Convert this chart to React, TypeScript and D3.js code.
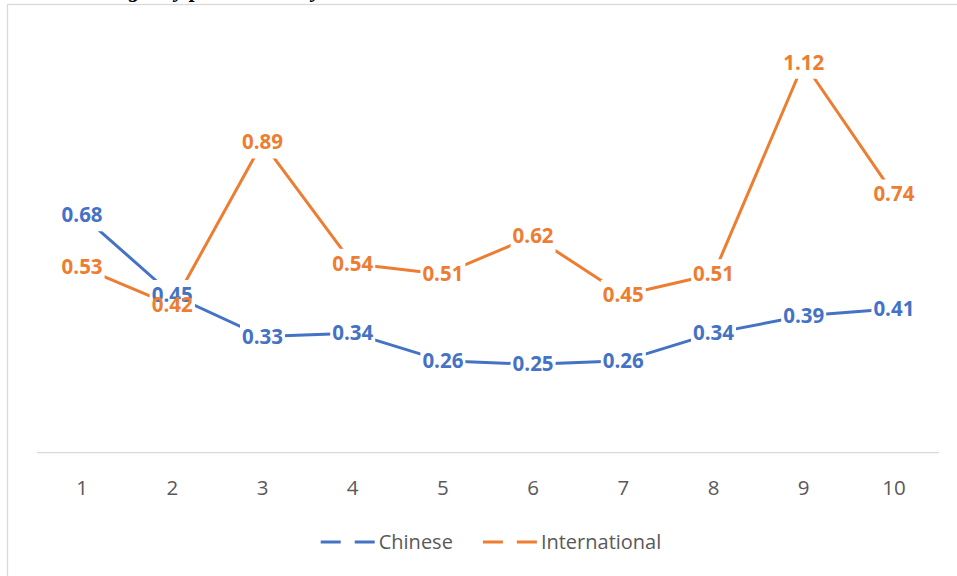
import React, { useEffect, useRef } from "react";
import * as d3 from "d3";

// values
const categories = ["1", "2", "3", "4", "5", "6", "7", "8", "9", "10"];
const chinese = [0.68, 0.45, 0.33, 0.34, 0.26, 0.25, 0.26, 0.34, 0.39, 0.41];
const international = [0.53, 0.42, 0.89, 0.54, 0.51, 0.62, 0.45, 0.51, 1.12, 0.74];
const seriesNames = ["Chinese", "International"];
const seriesColors = ["#4472C4", "#ED7D31"];
const yMax = 1.2;

const W = 957;
const H = 576;

const App = () => {
	const chartRef = useRef<SVGSVGElement>(null);

	useEffect(() => {
		const svg = d3.select(chartRef.current);
		svg.selectAll("*").remove();

		const font = "'Open Sans', 'Liberation Sans', sans-serif";
		const plot = { left: 37, right: 939, top: 35, bottom: 451 };

		const x = d3.scaleBand<string>().domain(categories).range([plot.left, plot.right]);
		const y = d3.scaleLinear().domain([0, yMax]).range([plot.bottom, plot.top]);
		const cx = (c: string) => (x(c) as number) + x.bandwidth() / 2;

		svg.append("rect").attr("width", W).attr("height", H).attr("fill", "#fff");

		// cut-off caption above the chart
		const cap = svg.append("g")
			.style("font-family", "'Liberation Serif', 'Times New Roman', serif")
			.style("font-weight", "bold")
			.style("font-style", "italic")
			.style("font-size", "22px")
			.attr("fill", "#000");
		cap.append("text").attr("x", 117).attr("y", -3.5).text("ng");
		cap.append("text").attr("x", 164).attr("y", -3.5).text("by p");
		cap.append("text").attr("x", 306).attr("y", -3.5).text("ty");

		// chart area border (extends past the window)
		svg.append("rect")
			.attr("x", 7.5).attr("y", 4.5)
			.attr("width", W + 20).attr("height", H + 20)
			.attr("fill", "none")
			.attr("stroke", "#D9D9D9")
			.attr("stroke-width", 1.25);

		// category axis
		svg.append("line")
			.attr("x1", plot.left).attr("x2", plot.right)
			.attr("y1", y(0) + 1.5).attr("y2", y(0) + 1.5)
			.attr("stroke", "#D9D9D9")
			.attr("stroke-width", 1.25);

		svg.append("g")
			.selectAll("text")
			.data(categories)
			.enter()
			.append("text")
			.attr("x", d => cx(d))
			.attr("y", 495)
			.attr("text-anchor", "middle")
			.style("font-family", font)
			.style("font-size", "20.5px")
			.attr("fill", "#595959")
			.text(d => d);

		const series = [chinese, international];
		const line = d3.line<number>()
			.x((_, i) => cx(categories[i]))
			.y(d => y(d));

		series.forEach((vals, s) => {
			svg.append("path")
				.datum(vals)
				.attr("d", line)
				.attr("fill", "none")
				.attr("stroke", seriesColors[s])
				.attr("stroke-width", 3)
				.attr("stroke-linejoin", "round");
		});

		// data labels: white box hides the line under each label
		const boxLayer = svg.append("g");
		const textLayer = svg.append("g");
		series.forEach((vals, s) => {
			vals.forEach((v, i) => {
				const px = cx(categories[i]);
				const py = y(v);
				const t = textLayer.append("text")
					.attr("x", px)
					.attr("y", py + 7)
					.attr("text-anchor", "middle")
					.style("font-family", font)
					.style("font-size", "20.5px")
					.style("font-weight", "bold")
					.attr("fill", seriesColors[s])
					.text(v.toFixed(2));
				const w = (t.node() as SVGTextElement).getComputedTextLength();
				boxLayer.append("rect")
					.attr("x", px - w / 2 - 2)
					.attr("y", py - 15)
					.attr("width", w + 4)
					.attr("height", 31)
					.attr("fill", "#fff");
			});
		});

		// legend
		const legend = svg.append("g");
		let lx = 0;
		seriesNames.forEach((name, s) => {
			const item = legend.append("g").attr("transform", `translate(${lx},0)`);
			item.append("line")
				.attr("x1", 0).attr("x2", 54)
				.attr("y1", 542).attr("y2", 542)
				.attr("stroke", seriesColors[s])
				.attr("stroke-width", 3)
				.attr("stroke-dasharray", "20 14");
			const t = item.append("text")
				.attr("x", 58)
				.attr("y", 549)
				.style("font-family", font)
				.style("font-size", "20px")
				.attr("fill", "#595959")
				.text(name);
			const w = (t.node() as SVGTextElement).getComputedTextLength();
			lx += 58 + w + 30;
		});
		const legendW = lx - 30;
		legend.attr("transform", `translate(${491 - legendW / 2},0)`);
	}, []);

	return (
		<svg
			ref={chartRef}
			width={W}
			height={H}
			style={{ position: "absolute", left: 0, top: 0 }}
		></svg>
	);
};

export default App;
